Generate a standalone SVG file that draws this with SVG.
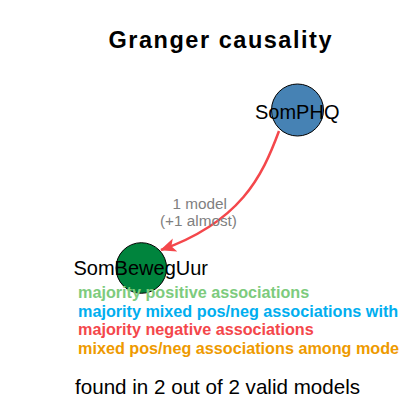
<svg xmlns="http://www.w3.org/2000/svg" width="400" height="400" viewBox="0 0 400 400">
<style>
text{font-family:"Liberation Sans",Arial,sans-serif}
.lbl{font-size:20px;fill:#000}
.leg{font-size:16.2px;font-weight:bold}
.elbl{font-size:15.3px;fill:#808080}
.edge{fill:none;stroke:#F4474B;stroke-width:2.5}
</style>
<defs>
<marker id="ah" markerWidth="16" markerHeight="14" refX="15" refY="7" orient="auto" markerUnits="userSpaceOnUse" viewBox="0 0 16 14">
<path d="M0,0 L16,7 L0,14 L4,7 Z" fill="#F4474B"/>
</marker>
</defs>
<rect width="400" height="400" fill="#fff"/>
<text x="108.5" y="48.3" font-size="23.5" font-weight="bold" textLength="223" lengthAdjust="spacing">Granger causality</text>
<g id="connectors">
<path class="edge" d="M279,131 C262,177 240,222 161,250" marker-end="url(#ah)"/>
<text class="elbl" x="172.5" y="208.5">1 model</text>
<text class="elbl" x="160" y="226">(+1 almost)</text>
</g>
<g id="SomPHQ">
<circle cx="297.5" cy="110" r="26" fill="#4682B4" stroke="#000" stroke-width="1"/>
<text class="lbl" x="255" y="119">SomPHQ</text>
</g>
<g id="SomBewegUur">
<circle cx="141.3" cy="268" r="25.3" fill="#00843D" stroke="#000" stroke-width="1"/>
<text class="lbl" x="73.5" y="275">SomBewegUur</text>
</g>
<g id="legend">
<text class="leg" x="78" y="298" fill="#7DCB7D">majority positive associations</text>
<text class="leg" x="78" y="317" fill="#00AEEF">majority mixed pos/neg associations with</text>
<text class="leg" x="78" y="335" fill="#F4474B">majority negative associations</text>
<text class="leg" x="78" y="354" fill="#EE9A00">mixed pos/neg associations among mode</text>
</g>
<text x="75" y="394" font-size="20.6">found in 2 out of 2 valid models</text>
</svg>
